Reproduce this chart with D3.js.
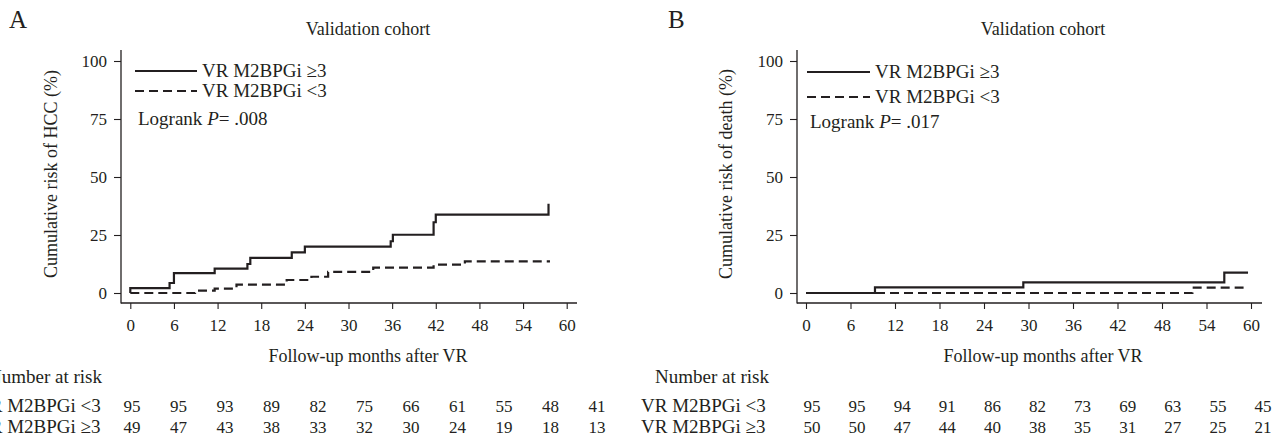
<!DOCTYPE html>
<html>
<head>
<meta charset="utf-8">
<script src="https://cdn.jsdelivr.net/npm/d3@7"></script>
<style>
  body { margin: 0; background: #fff; }
  svg text { font-family: "Liberation Serif", "DejaVu Serif", "Times New Roman", serif; fill: #231f20; }
</style>
</head>
<body>
<svg id="chart"></svg>
<script>
// tick values
const monthTicks = [0, 6, 12, 18, 24, 30, 36, 42, 48, 54, 60];
const riskTicks = [0, 25, 50, 75, 100];
const groupLabels = ["VR M2BPGi \u22653", "VR M2BPGi <3"];

// panel A - HCC, step points (months, %)
const hccHighTime = [0, 0, 5.4, 6.0, 11.6, 16.1, 16.5, 22.2, 24.0, 35.8, 36.1, 41.7, 42.0, 57.5, 57.5];
const hccHighRisk = [0, 2.1, 4.3, 8.6, 10.5, 12.5, 15.1, 17.5, 20.0, 22.3, 25.1, 30.5, 33.8, 33.8, 38.5];
const hccLowTime = [0, 8.9, 11.6, 14.6, 21.5, 24.9, 27.2, 33.4, 41.7, 46.0, 57.7];
const hccLowRisk = [0, 1.0, 1.9, 3.6, 5.6, 7.0, 9.1, 10.9, 12.2, 13.6, 13.6];

// panel B - death
const deathHighTime = [0, 9.3, 29.3, 56.4, 59.6];
const deathHighRisk = [0, 2.4, 4.6, 8.8, 8.8];
const deathLowTime = [0, 52.1, 59.0];
const deathLowRisk = [0, 2.3, 2.3];

// number at risk, one value per month tick
const hccAtRiskLow = [95, 95, 93, 89, 82, 75, 66, 61, 55, 48, 41];
const hccAtRiskHigh = [49, 47, 43, 38, 33, 32, 30, 24, 19, 18, 13];
const deathAtRiskLow = [95, 95, 94, 91, 86, 82, 73, 69, 63, 55, 45];
const deathAtRiskHigh = [50, 50, 47, 44, 40, 38, 35, 31, 27, 25, 21];

const width = 1285, height = 437;
const serif = '"Liberation Serif", "DejaVu Serif", "Times New Roman", serif';
const svg = d3.select("#chart").attr("width", width).attr("height", height)
  .attr("font-family", serif);
svg.append("rect").attr("width", width).attr("height", height).attr("fill", "#fff");

const ink = "#231f20";
const zip = (t, r) => t.map((d, i) => [d, r[i]]);

function drawPanel(p) {
  const g = svg.append("g");
  const x = d3.scaleLinear().domain([0, 60]).range(p.xRange);
  const y = d3.scaleLinear().domain([0, 100]).range([293, 61]);

  // axis lines
  g.append("line").attr("x1", p.axisX).attr("x2", p.axisX).attr("y1", 50).attr("y2", 303.5)
    .attr("stroke", ink).attr("stroke-width", 1.3);
  g.append("line").attr("x1", p.axisX).attr("x2", p.xAxisEnd).attr("y1", 303).attr("y2", 303)
    .attr("stroke", ink).attr("stroke-width", 1.3);

  const yAxisG = g.append("g").attr("transform", `translate(${p.axisX},0)`)
    .call(d3.axisLeft(y).tickValues(riskTicks).tickSize(7).tickPadding(7).tickSizeOuter(0));
  const xAxisG = g.append("g").attr("transform", "translate(0,303)")
    .call(d3.axisBottom(x).tickValues(monthTicks).tickSize(6).tickPadding(10).tickSizeOuter(0));
  [yAxisG, xAxisG].forEach(a => {
    a.select(".domain").remove();
    a.attr("font-family", serif).attr("font-size", null);
    a.selectAll("line").attr("stroke", ink).attr("stroke-width", 1.1);
    a.selectAll("text").style("font-size", "17px").style("font-family", serif).attr("fill", ink);
  });

  // curves
  const line = d3.line().x(d => x(d[0])).y(d => y(d[1])).curve(d3.curveStepAfter);
  g.append("path").datum(p.high).attr("d", line)
    .attr("fill", "none").attr("stroke", ink).attr("stroke-width", 2.2);
  g.append("path").datum(p.low).attr("d", line)
    .attr("fill", "none").attr("stroke", ink).attr("stroke-width", 2.2)
    .attr("stroke-dasharray", "9,5");

  // titles
  g.append("text").attr("x", p.letterX).attr("y", 28).style("font-size", "25px").text(p.letter);
  g.append("text").attr("x", p.titleX).attr("y", 35).attr("text-anchor", "middle")
    .style("font-size", "18px").text("Validation cohort");
  g.append("text").attr("transform", `translate(${p.yTitleX},174) rotate(-90)`)
    .attr("text-anchor", "middle").style("font-size", "18px").text(p.yTitle);
  g.append("text").attr("x", p.titleX).attr("y", 362).attr("text-anchor", "middle")
    .style("font-size", "18px").text("Follow-up months after VR");

  // legend
  [0, 1].forEach(i => {
    g.append("line").attr("x1", p.legLine[0]).attr("x2", p.legLine[1])
      .attr("y1", p.legY[i]).attr("y2", p.legY[i])
      .attr("stroke", ink).attr("stroke-width", 2.2)
      .attr("stroke-dasharray", i === 1 ? "9,5" : null);
    g.append("text").attr("x", p.legLine[1] + 5).attr("y", p.legY[i] + 6)
      .style("font-size", "19px").text(groupLabels[i]);
  });
  const lr = g.append("text").attr("x", p.logX).attr("y", p.logY + 6).style("font-size", "19px");
  lr.append("tspan").text("Logrank ");
  lr.append("tspan").style("font-style", "italic").text("P");
  lr.append("tspan").text("= " + p.pValue);

  // number at risk table
  const col = d3.scaleLinear().domain([0, 60]).range(p.tableCols);
  g.append("text").attr("x", p.headX).attr("y", 383).style("font-size", "19px").text("Number at risk");
  const rows = [[groupLabels[1], p.riskLow, 412], [groupLabels[0], p.riskHigh, 433]];
  rows.forEach(([label, vals, yy]) => {
    g.append("text").attr("x", p.labelX).attr("y", yy).style("font-size", "19px").text(label);
    g.selectAll(null).data(vals).join("text")
      .attr("x", (d, i) => col(monthTicks[i])).attr("y", yy)
      .attr("text-anchor", "middle").style("font-size", "17px")
      .text(d => d);
  });
}

drawPanel({
  letter: "A", letterX: 9, titleX: 368, yTitleX: 57,
  yTitle: "Cumulative risk of HCC (%)",
  axisX: 121, xRange: [130.3, 566.7], xAxisEnd: 577,
  high: zip(hccHighTime, hccHighRisk), low: zip(hccLowTime, hccLowRisk),
  legLine: [135, 197], legY: [71, 91], logX: 138, logY: 119, pValue: ".008",
  tableCols: [132, 597], labelX: -24, headX: -12,
  riskLow: hccAtRiskLow, riskHigh: hccAtRiskHigh
});

drawPanel({
  letter: "B", letterX: 668, titleX: 1043, yTitleX: 732,
  yTitle: "Cumulative risk of death (%)",
  axisX: 797, xRange: [806, 1251], xAxisEnd: 1262,
  high: zip(deathHighTime, deathHighRisk), low: zip(deathLowTime, deathLowRisk),
  legLine: [807, 870], legY: [72, 97], logX: 810, logY: 122, pValue: ".017",
  tableCols: [812, 1263], labelX: 641, headX: 655,
  riskLow: deathAtRiskLow, riskHigh: deathAtRiskHigh
});
</script>
</body>
</html>
